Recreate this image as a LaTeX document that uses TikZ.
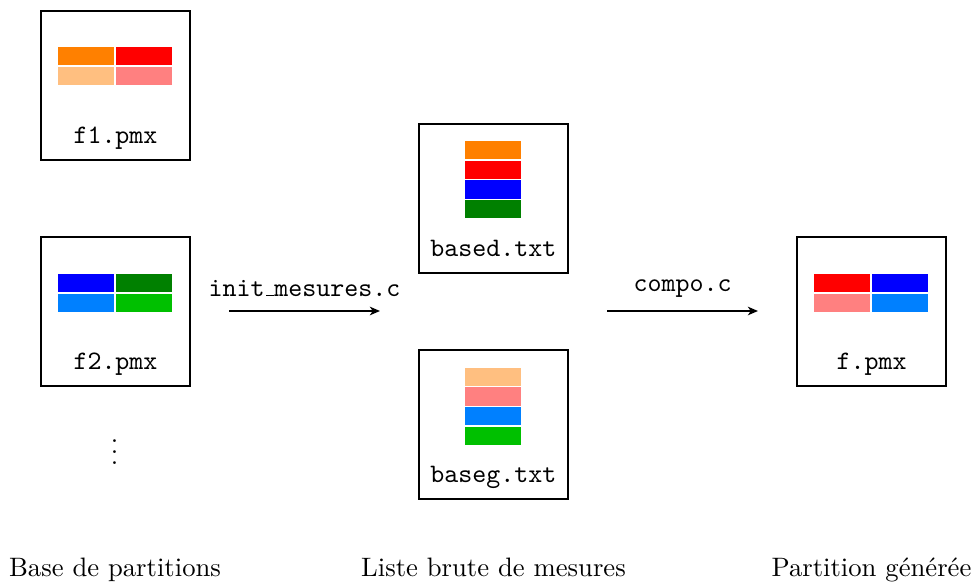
\documentclass[tikz,border=0pt]{standalone}
\usetikzlibrary{arrows.meta}
\begin{document}
\begin{tikzpicture}[x=0.375pt,y=-0.375pt,
  filebox/.style={draw=black,line width=0.75pt,minimum width=55.9pt,minimum height=55.9pt,inner sep=0pt},
  cell/.style={inner sep=0pt,minimum width=21pt,minimum height=6.9pt,anchor=north west},
  fname/.style={font=\ttfamily,inner sep=0pt,anchor=base},
  captext/.style={inner sep=0pt,anchor=base},
  flow/.style={-{Stealth[length=3.8pt,width=3.2pt,inset=1.1pt]},line width=0.75pt}]
\useasboundingbox (0,0) rectangle (977,583);
\definecolor{cOrange}{HTML}{FF8000}\definecolor{cLOrange}{HTML}{FFBF80}
\definecolor{cRed}{HTML}{FF0000}\definecolor{cLRed}{HTML}{FF8080}
\definecolor{cBlue}{HTML}{0000FF}\definecolor{cLBlue}{HTML}{0080FF}
\definecolor{cGreen}{HTML}{008000}\definecolor{cLGreen}{HTML}{00C000}
\node[filebox] (f1) at (115.4,85.1) {};
\node[filebox] (f2) at (115.4,311.4) {};
\node[filebox] (based) at (493.4,198.4) {};
\node[filebox] (baseg) at (493.4,424.4) {};
\node[filebox] (f) at (871.4,311.4) {};
% f1
\node[cell,fill=cOrange] (a1) at (57.6,46.5) {};
\node[cell,fill=cRed] (a2) at (115.6,46.5) {};
\node[cell,fill=cLOrange] (a3) at (57.6,66.2) {};
\node[cell,fill=cLRed] (a4) at (115.6,66.2) {};
% f2
\node[cell,fill=cBlue] (b1) at (57.6,273.5) {};
\node[cell,fill=cGreen] (b2) at (115.6,273.5) {};
\node[cell,fill=cLBlue] (b3) at (57.6,293.2) {};
\node[cell,fill=cLGreen] (b4) at (115.6,293.2) {};
% f
\node[cell,fill=cRed] (c1) at (813.6,273.5) {};
\node[cell,fill=cBlue] (c2) at (871.6,273.5) {};
\node[cell,fill=cLRed] (c3) at (813.6,293.2) {};
\node[cell,fill=cLBlue] (c4) at (871.6,293.2) {};
% based
\node[cell,fill=cOrange] (d1) at (464.7,140.5) {};
\node[cell,fill=cRed] (d2) at (464.7,160.2) {};
\node[cell,fill=cBlue] (d3) at (464.7,179.8) {};
\node[cell,fill=cGreen] (d4) at (464.7,199.5) {};
% baseg
\node[cell,fill=cLOrange] (e1) at (464.7,367) {};
\node[cell,fill=cLRed] (e2) at (464.7,386.7) {};
\node[cell,fill=cLBlue] (e3) at (464.7,406.3) {};
\node[cell,fill=cLGreen] (e4) at (464.7,426) {};
% names
\node[fname] (t1) at (115.5,143) {f1.pmx};
\node[fname] (t2) at (115.5,369.5) {f2.pmx};
\node[fname] (t3) at (493.5,256) {based.txt};
\node[fname] (t4) at (493.5,482) {baseg.txt};
\node[fname] (t5) at (871.5,369.5) {f.pmx};
\node[fname] (l1) at (304.5,296) {init\kern.06em\vbox{\hrule width .3em}mesures.c};
\node[fname] (l2) at (682.5,291) {compo.c};
\node[inner sep=0pt] (dots) at (114.7,444) {$\vdots$};
\coordinate (s1) at (229,311);\coordinate (e1x) at (380,311);
\coordinate (s2) at (607,311);\coordinate (e2x) at (758,311);
\draw[flow] (s1) -- (e1x);
\draw[flow] (s2) -- (e2x);
\node[captext] (k1) at (115,576) {Base de partitions};
\node[captext] (k2) at (493.5,576) {Liste brute de mesures};
\node[captext] (k3) at (871.5,576) {Partition générée};
\end{tikzpicture}
\end{document}
